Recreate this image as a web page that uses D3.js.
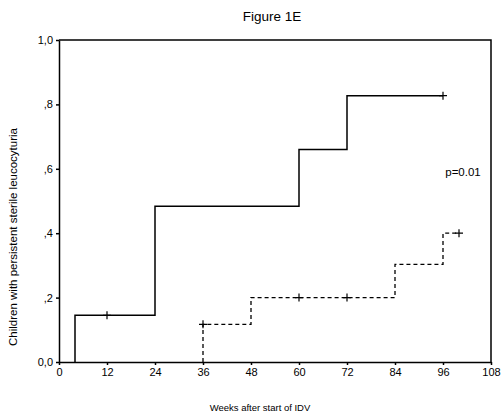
<!DOCTYPE html>
<html lang="en">
<head>
<meta charset="utf-8">
<title>Figure 1E</title>
<style>
  body { margin: 0; background: #fff; }
  svg { display: block; font-family: "Liberation Sans", Arial, sans-serif; }
  .axis path, .axis line { stroke: #000; stroke-width: 1.5; }
  .axis text { font-size: 11px; fill: #000; }
</style>
</head>
<body>
<div id="chart"></div>
<script src="https://d3js.org/d3.v7.min.js"></script>
<script>
// solid group: event times and cumulative proportion after each step
var solidTimes = [4, 24, 60, 72];
var solidValues = [0.145, 0.484, 0.66, 0.827];
var solidEnd = 96;
var solidCensor = [[12, 0.145], [96, 0.827]];

// dashed group
var dashTimes = [36, 48, 84, 96];
var dashValues = [0.117, 0.2, 0.303, 0.4];
var dashEnd = 100;
var dashCensor = [[36, 0.117], [60, 0.2], [72, 0.2], [100, 0.4]];

var xTicks = [0, 12, 24, 36, 48, 60, 72, 84, 96, 108];
var yTicks = [0, 0.2, 0.4, 0.6, 0.8, 1.0];
var yTickLabels = ["0,0", ",2", ",4", ",6", ",8", "1,0"];

var W = 501, H = 419;
var svg = d3.select("#chart").append("svg").attr("width", W).attr("height", H);

var x = d3.scaleLinear().domain([0, 108]).range([59, 491]);
var y = d3.scaleLinear().domain([0, 1]).range([362, 40]);

// frame top and right
svg.append("path")
  .attr("d", "M" + x(0) + "," + y(1) + "H" + x(108) + "V" + y(0))
  .attr("fill", "none").attr("stroke", "#000").attr("stroke-width", 1.5);

svg.append("g").attr("class", "axis")
  .attr("transform", "translate(0," + y(0) + ")")
  .call(d3.axisBottom(x).tickValues(xTicks).tickSize(3).tickPadding(3).tickSizeOuter(0));

svg.append("g").attr("class", "axis")
  .attr("transform", "translate(" + x(0) + ",0)")
  .call(d3.axisLeft(y).tickValues(yTicks).tickSize(3).tickPadding(3).tickSizeOuter(0)
    .tickFormat(function(d, i) { return yTickLabels[i]; }));

function stepPoints(t0, times, values, end) {
  var pts = [[t0, 0]];
  times.forEach(function(t, i) { pts.push([t, values[i]]); });
  pts.push([end, values[values.length - 1]]);
  return pts;
}

var line = d3.line()
  .x(function(d) { return x(d[0]); })
  .y(function(d) { return y(d[1]); })
  .curve(d3.curveStepAfter);

svg.append("path")
  .attr("d", line(stepPoints(solidTimes[0], solidTimes, solidValues, solidEnd)))
  .attr("fill", "none").attr("stroke", "#000").attr("stroke-width", 1.5);

svg.append("path")
  .attr("d", line(stepPoints(dashTimes[0], dashTimes, dashValues, dashEnd)))
  .attr("fill", "none").attr("stroke", "#000").attr("stroke-width", 1.3)
  .attr("stroke-dasharray", "4,3");

function censor(data) {
  svg.selectAll(null).data(data).enter().append("path")
    .attr("d", function(d) {
      var cx = x(d[0]), cy = y(d[1]);
      return "M" + cx + "," + (cy - 4) + "V" + (cy + 4) + "M" + (cx - 4) + "," + cy + "H" + (cx + 4);
    })
    .attr("stroke", "#000").attr("stroke-width", 1.2);
}
censor(solidCensor);
censor(dashCensor);

svg.append("text").attr("x", 272).attr("y", 21).attr("text-anchor", "middle")
  .style("font-size", "13.5px").text("Figure 1E");

svg.append("text").attr("x", 463).attr("y", 176).attr("text-anchor", "middle")
  .style("font-size", "11.5px").text("p=0.01");

svg.append("text").attr("x", 260).attr("y", 411).attr("text-anchor", "middle")
  .style("font-size", "9.5px").text("Weeks after start of IDV");

svg.append("text").attr("transform", "translate(17,237) rotate(-90)")
  .attr("text-anchor", "middle")
  .style("font-size", "11.5px").text("Children with persistent sterile leucocyturia");
</script>
</body>
</html>
